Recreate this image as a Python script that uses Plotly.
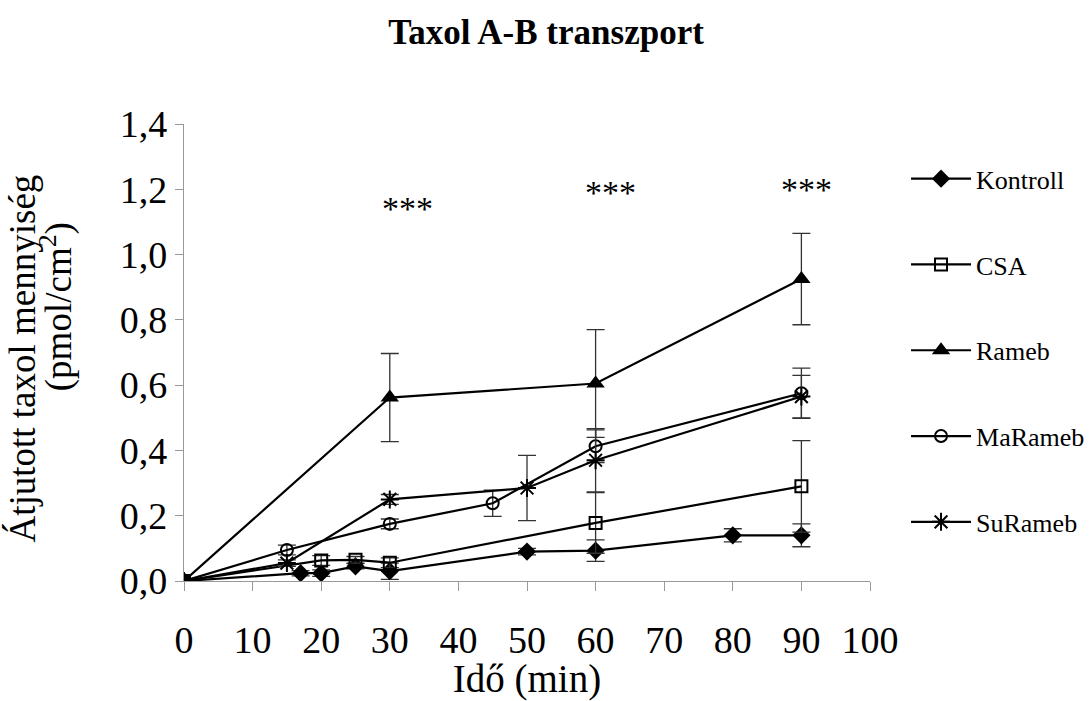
import plotly.graph_objects as go

# Time points (min), mean transported taxol (pmol/cm2) and SD per treatment
kontroll_x = [0, 17, 20, 25, 30, 50, 60, 80, 90]
kontroll_y = [0, 0.024, 0.024, 0.045, 0.030, 0.090, 0.093, 0.140, 0.140]
kontroll_err = [0, 0.008, 0.010, 0.008, 0.025, 0.010, 0.033, 0.020, 0.035]

csa_x = [0, 20, 25, 30, 60, 90]
csa_y = [0, 0.063, 0.065, 0.056, 0.178, 0.290]
csa_err = [0, 0.015, 0.010, 0.015, 0.093, 0.140]

rameb_x = [0, 30, 60, 90]
rameb_y = [0, 0.562, 0.605, 0.925]
rameb_err = [0, 0.135, 0.165, 0.140]

marameb_x = [0, 15, 30, 45, 60, 90]
marameb_y = [0, 0.095, 0.175, 0.238, 0.413, 0.575]
marameb_err = [0, 0.015, 0.015, 0.040, 0.050, 0.077]

surameb_x = [0, 15, 30, 50, 60, 90]
surameb_y = [0, 0.055, 0.250, 0.285, 0.370, 0.565]
surameb_err = [0, 0.010, 0.015, 0.100, 0.097, 0.065]

# Significance marks above the time points
sig_x = [32.6, 62.1, 90.7]
sig_y = [1.14, 1.19, 1.20]
sig_text = ["***", "***", "***"]

x_ticks = [0, 10, 20, 30, 40, 50, 60, 70, 80, 90, 100]
y_ticks = [0, 0.2, 0.4, 0.6, 0.8, 1.0, 1.2, 1.4]

FONT = "Liberation Serif"

series = [
    ("Kontroll", kontroll_x, kontroll_y, kontroll_err,
     dict(symbol="diamond", size=14, color="black")),
    ("CSA", csa_x, csa_y, csa_err,
     dict(symbol="square-open", size=12, color="black", line=dict(width=2, color="black"))),
    ("Rameb", rameb_x, rameb_y, rameb_err,
     dict(symbol="triangle-up", size=16, color="black")),
    ("MaRameb", marameb_x, marameb_y, marameb_err,
     dict(symbol="circle-open", size=12, color="black", line=dict(width=2, color="black"))),
    ("SuRameb", surameb_x, surameb_y, surameb_err,
     dict(symbol="asterisk-open", size=15, color="black", line=dict(width=2, color="black"))),
]

fig = go.Figure()
for name, xs, ys, errs, marker in series:
    fig.add_trace(go.Scatter(
        x=xs, y=ys, name=name, mode="lines+markers",
        line=dict(color="black", width=2.2),
        marker=marker,
        error_y=dict(type="data", array=errs, visible=True,
                     color="#333333", thickness=1.3, width=9),
        legendgroup=name,
    ))

for sx, sy, st in zip(sig_x, sig_y, sig_text):
    fig.add_annotation(x=sx, y=sy, text=st, showarrow=False,
                       xref="x", yref="y",
                       font=dict(family=FONT, size=34, color="black"))

# Y-axis title, two rotated lines
fig.add_annotation(text="Átjutott taxol mennyiség", textangle=-90,
                   xref="paper", yref="paper", x=-0.236, y=0.487,
                   xanchor="center", yanchor="middle", showarrow=False,
                   font=dict(family=FONT, size=37, color="black"))
fig.add_annotation(text="(pmol/cm<sup>2</sup>)", textangle=-90,
                   xref="paper", yref="paper", x=-0.186, y=0.6,
                   xanchor="center", yanchor="middle", showarrow=False,
                   font=dict(family=FONT, size=37, color="black"))

fig.update_layout(
    width=1092, height=701,
    paper_bgcolor="white", plot_bgcolor="white",
    separators=",.",
    margin=dict(l=184, r=222, t=124, b=120, autoexpand=False),
    title=dict(text="<b>Taxol A-B transzport</b>", x=0.5, xanchor="center",
               y=0.955, yanchor="middle",
               font=dict(family=FONT, size=35, color="black")),
    font=dict(family=FONT, color="black"),
    showlegend=True,
    legend=dict(x=0.8297, y=0.7785, xref="container", yref="container",
                xanchor="left", yanchor="top", maxheight=520,
                font=dict(family=FONT, size=26, color="black"),
                tracegroupgap=49, itemwidth=60,
                bgcolor="rgba(0,0,0,0)"),
)

fig.update_xaxes(
    range=[0, 100], tickvals=x_ticks, ticktext=[str(v) for v in x_ticks],
    automargin=False,
    showgrid=False, zeroline=False,
    showline=True, linecolor="#999999", linewidth=1.3,
    ticks="outside", ticklen=9, tickcolor="#999999", tickwidth=1.3,
    ticklabelstandoff=16,
    tickfont=dict(family=FONT, size=38, color="black"),
    title=dict(text="Idő (min)", font=dict(family=FONT, size=39, color="black"), standoff=6),
)
fig.update_yaxes(
    range=[0, 1.4], tickvals=y_ticks, tickformat=".1f",
    automargin=False,
    showgrid=False, zeroline=False,
    showline=True, linecolor="#999999", linewidth=1.3,
    ticks="outside", ticklen=8, tickcolor="#999999", tickwidth=1.3,
    tickfont=dict(family=FONT, size=38, color="black"),
)

fig.write_html("out.html")
